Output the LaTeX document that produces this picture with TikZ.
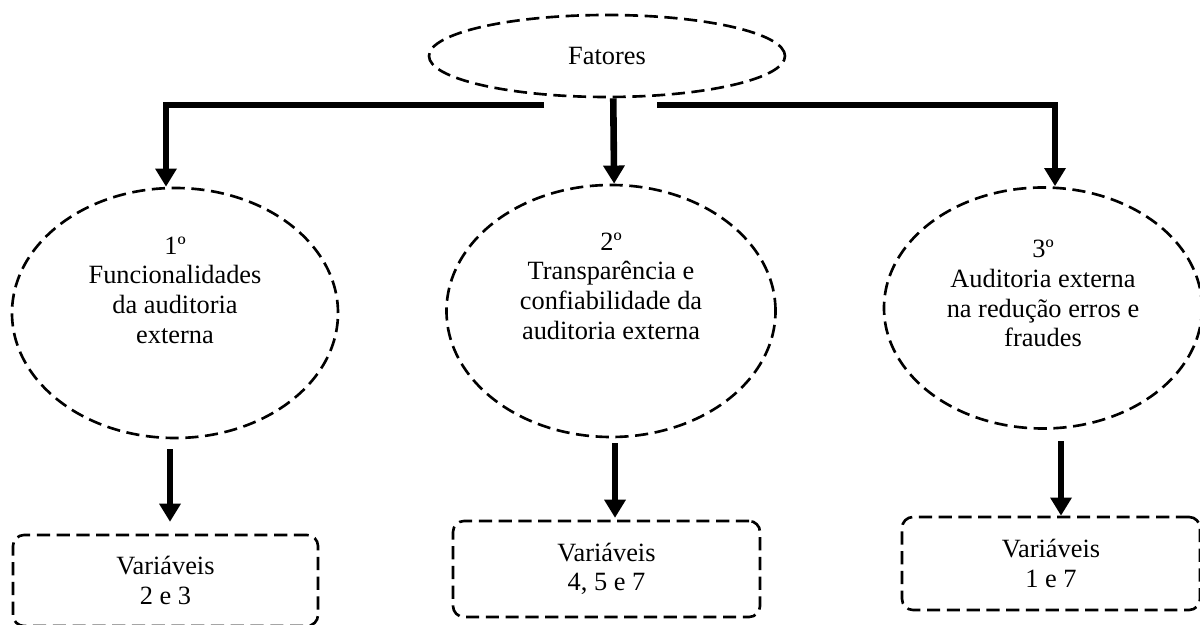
\documentclass[tikz,border=0pt]{standalone}
\usepackage{fontspec}
\setmainfont{Liberation Serif}
\usetikzlibrary{shapes.geometric, arrows.meta}

\begin{document}
\begin{tikzpicture}[
    font=\fontsize{12}{13.5}\selectfont,
    oval/.style={draw, ellipse, inner sep=0pt, align=center, line width=1.2pt, dash pattern=on 6pt off 3pt},
    varbox/.style={draw, rectangle, rounded corners=5pt, align=center, line width=1.2pt, dash pattern=on 6pt off 3pt},
    bigarrow/.style={line width=3pt, -{Triangle[width=0.33cm, length=0.29cm]}}
]
    \useasboundingbox (0,0) rectangle (19.2,-10);

    \node[oval, minimum width=5.696cm, minimum height=1.312cm] (F) at (9.712,-0.896) {Fatores};

    \node[oval, minimum width=5.216cm, minimum height=4cm, text depth=0.74cm] (E1) at (2.8,-5.008) {1º\\Funcionalidades\\da auditoria\\externa};
    \node[oval, minimum width=5.264cm, minimum height=4.032cm, text depth=0.8cm] (E2) at (9.776,-4.976) {2º\\Transparência e\\confiabilidade da\\auditoria externa};
    \node[oval, minimum width=5.088cm, minimum height=3.856cm, text depth=0.46cm] (E3) at (16.688,-4.928) {3º\\Auditoria externa\\na redução erros e\\fraudes};

    \node[varbox, minimum width=4.88cm, minimum height=1.456cm] (V1) at (2.648,-9.288) {Variáveis\\2 e 3};
    \node[varbox, minimum width=4.912cm, minimum height=1.536cm] (V2) at (9.704,-9.104) {Variáveis\\4, 5 e 7};
    \node[varbox, minimum width=4.768cm, minimum height=1.488cm] (V3) at (16.816,-9.016) {Variáveis\\1 e 7};

    % ramos superiores
    \coordinate (HL) at (8.704,-1.68);
    \coordinate (HR) at (10.512,-1.68);
    \draw[bigarrow] (HL) -| ([xshift=-0.144cm]E1.north);
    \draw[bigarrow] ([xshift=0.1cm]F.south) -- ([xshift=0.05cm]E2.north);
    \draw[bigarrow] (HR) -| ([xshift=0.192cm]E3.north);

    % ligacoes para as variaveis
    \draw[bigarrow, shorten <=0.16cm, shorten >=0.19cm] ([xshift=-0.08cm]E1.south) -- ([xshift=-0.08cm]E1.south |- V1.north);
    \draw[bigarrow, shorten <=0.08cm, shorten >=0.03cm] ([xshift=0.064cm]E2.south) -- ([xshift=0.064cm]E2.south |- V2.north);
    \draw[bigarrow, shorten <=0.18cm] ([xshift=0.288cm]E3.south) -- ([xshift=0.288cm]E3.south |- V3.north);

\end{tikzpicture}
\end{document}
